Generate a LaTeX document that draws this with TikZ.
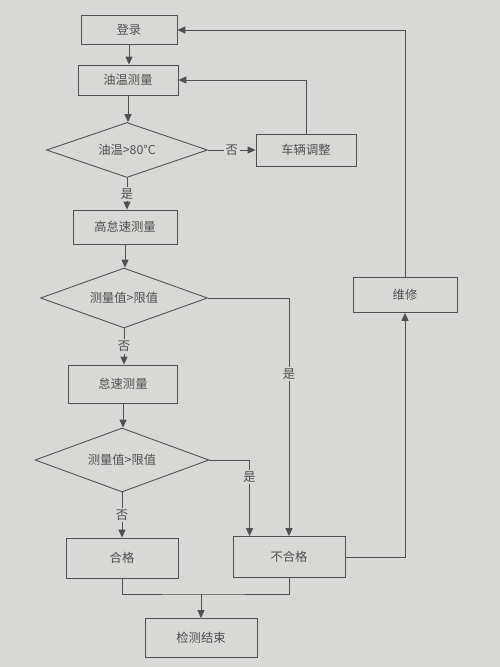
\documentclass[tikz,border=0pt]{standalone}
\usepackage{fontspec}
\newfontfamily\cjk{Noto Sans CJK SC}
\usetikzlibrary{shapes.geometric,arrows.meta}
\definecolor{paper}{RGB}{216,216,214}
\definecolor{ink}{RGB}{80,80,80}
\tikzset{
  box/.style={draw=ink, line width=0.5pt, fill=paper, text=ink, font=\cjk\fontsize{7}{8}\selectfont, inner sep=0pt},
  dia/.style={diamond, aspect=3, draw=ink, line width=0.5pt, fill=paper, text=ink, font=\cjk\fontsize{7}{8}\selectfont, inner sep=0pt},
  lbl/.style={fill=paper, text=ink, font=\cjk\fontsize{7}{8}\selectfont, inner sep=1pt},
  arr/.style={draw=ink, line width=0.5pt, -{Triangle[length=4.5pt,width=4pt]}},
  ln/.style={draw=ink, line width=0.5pt}
}
\begin{document}
\begin{tikzpicture}[x=0.02cm, y=-0.02cm]
\fill[paper] (0,0) rectangle (500,667);
\useasboundingbox (0,0) rectangle (500,667);
% main column
\node[box, minimum width=1.92cm, minimum height=0.58cm] (login) at (129,30) {登录};
\node[box, minimum width=2.0cm, minimum height=0.6cm] (oil) at (128,80) {油温测量};
\node[dia, minimum width=3.22cm, minimum height=1.1cm] (d1) at (127,150) {油温>80°C};
\node[box, minimum width=2.0cm, minimum height=0.64cm] (adjust) at (306,150) {车辆调整};
\node[box, minimum width=2.08cm, minimum height=0.68cm] (hidle) at (125,227) {高怠速测量};
\node[dia, minimum width=3.34cm, minimum height=1.2cm] (d2) at (124,298) {测量值>限值};
\node[box, minimum width=2.18cm, minimum height=0.76cm] (idle) at (123,384) {怠速测量};
\node[dia, minimum width=3.48cm, minimum height=1.28cm] (d3) at (122,460) {测量值>限值};
\node[box, minimum width=2.24cm, minimum height=0.8cm] (pass) at (122,558) {合格};
\node[box, minimum width=2.24cm, minimum height=0.82cm] (fail) at (289,557) {不合格};
\node[box, minimum width=2.24cm, minimum height=0.78cm] (finish) at (201,638) {检测结束};
\node[box, minimum width=2.08cm, minimum height=0.7cm] (repair) at (405,295) {维修};
\coordinate (join) at (201,594);
% connectors
\draw[arr] (login.south) -- (login.south |- oil.north);
\draw[arr] (oil.south) -- (oil.south |- d1.north);
\draw[arr] (d1.east) -- node[lbl] {否} (adjust.west);
\draw[arr] (adjust.north) |- (oil.east);
\draw[arr] (d1.south) -- node[lbl] {是} (d1.south |- hidle.north);
\draw[arr] (hidle.south) -- (hidle.south |- d2.north);
\draw[arr] (d2.south) -- node[lbl] {否} (d2.south |- idle.north);
\draw[arr] (d2.east) -| node[lbl, pos=0.66] {是} (fail.north);
\draw[arr] (idle.south) -- (idle.south |- d3.north);
\draw[arr] (d3.south) -- node[lbl] {否} (d3.south |- pass.north);
\draw[arr] (d3.east) -| node[lbl, pos=0.61] {是} ([xshift=0.34cm]fail.north west);
\draw[arr] (fail.east) -| (repair.south);
\draw[arr] (repair.north) |- (login.east);
\draw[ln] (pass.south) |- (join) -| (fail.south);
\draw[arr] (join) -- (finish.north);
\end{tikzpicture}
\end{document}
